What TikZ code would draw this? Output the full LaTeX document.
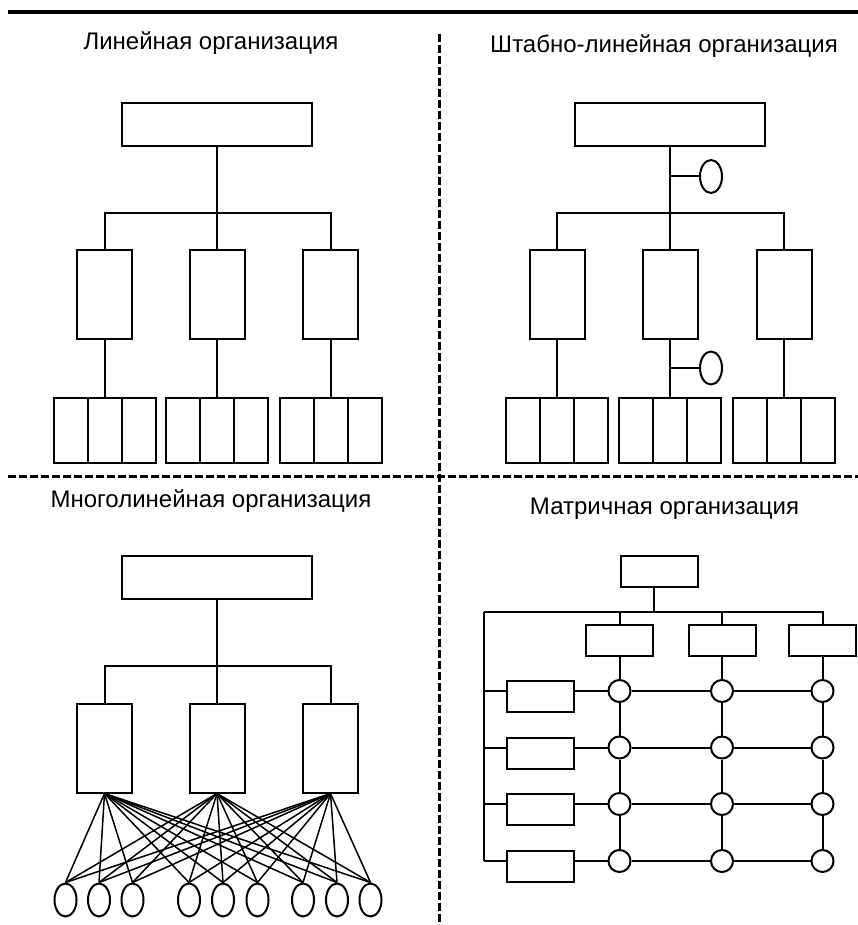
\documentclass[tikz,border=0pt]{standalone}
\usepackage{fontspec}
\setmainfont{Liberation Sans}
\usetikzlibrary{shapes.geometric}
\begin{document}
\begin{tikzpicture}[x=1pt,y=-1pt,
  ln/.style={line width=2pt},
  fan/.style={line width=1.5pt},
  bx/.style={draw,line width=2pt,rectangle,inner sep=0pt,fill=white},
  ov/.style={draw,line width=2pt,ellipse,inner sep=0pt,minimum width=22pt,minimum height=33pt,fill=white},
  cr/.style={draw,line width=2pt,circle,inner sep=0pt,minimum size=22pt,fill=white},
  ttl/.style={font=\fontsize{24}{28}\selectfont,inner sep=0pt,anchor=base},
  sep/.style={line width=3pt,dash pattern=on 8pt off 3pt},
  topbox/.style={bx,minimum width=190pt,minimum height=43pt},
  midbox/.style={bx,minimum width=55pt,minimum height=89pt},
  cell/.style={bx,minimum width=34pt,minimum height=65pt},
  smallbox/.style={bx,minimum width=67pt,minimum height=31pt}
]
\useasboundingbox (0,0) rectangle (858,925);

% separators
\coordinate (tl) at (8,12);
\coordinate (tr) at (858,12);
\draw[line width=3.2pt] (tl) -- (tr);
\coordinate (vt) at (439,34);
\coordinate (vb) at (439,925);
\draw[sep] (vt) -- (vb);
\coordinate (hl) at (8,476);
\coordinate (hr) at (858,476);
\draw[sep] (hl) -- (hr);

% titles
\node[ttl] (t1) at (211,50) {Линейная организация};
\node[ttl] (t2) at (664,52.5) {Штабно-линейная организация};
\node[ttl] (t3) at (211,507) {Многолинейная организация};
\node[ttl] (t4) at (664.5,514) {Матричная организация};

% ---------- Linear organisation ----------
\node[topbox] (a0) at (217,124.5) {};
\coordinate (ab) at (217,213);
\foreach \g/\x in {1/104.5,2/217,3/330.5}{
  \node[midbox] (am\g) at (\x,294.5) {};
  \node[cell] (ag\g l) at ({\x-34},430.5) {};
  \node[cell] (ag\g c) at (\x,430.5) {};
  \node[cell] (ag\g r) at ({\x+34},430.5) {};
  \draw[ln] (am\g.south) -- (ag\g c.north);
}
\draw[ln] (a0.south) -- (ab);
\draw[ln] (am1.north) |- (ab) -| (am3.north);
\draw[ln] (ab) -- (am2.north);

% ---------- Staff-line organisation ----------
\node[topbox] (b0) at (670,124.5) {};
\coordinate (bb) at (670,213);
\foreach \g/\x in {1/557,2/670,3/784}{
  \node[midbox] (bm\g) at (\x,294.5) {};
  \node[cell] (bg\g l) at ({\x-34},430.5) {};
  \node[cell] (bg\g c) at (\x,430.5) {};
  \node[cell] (bg\g r) at ({\x+34},430.5) {};
  \draw[ln] (bm\g.south) -- (bg\g c.north);
}
\draw[ln] (b0.south) -- (bb);
\draw[ln] (bm1.north) |- (bb) -| (bm3.north);
\draw[ln] (bb) -- (bm2.north);
\node[ov] (bs1) at (711,176.5) {};
\coordinate (bs1c) at (670,176.5);
\draw[ln] (bs1c) -- (bs1.west);
\node[ov] (bs2) at (711,368) {};
\coordinate (bs2c) at (670,368);
\draw[ln] (bs2c) -- (bs2.west);

% ---------- Multi-line organisation ----------
\node[topbox] (c0) at (217,577.5) {};
\coordinate (cb) at (217,666);
\foreach \g/\x in {1/104.5,2/217,3/330.5}{
  \node[midbox] (cm\g) at (\x,748) {};
}
\draw[ln] (c0.south) -- (cb);
\draw[ln] (cm1.north) |- (cb) -| (cm3.north);
\draw[ln] (cb) -- (cm2.north);
\foreach \j/\x in {1/65.5,2/99,3/132.5,4/189,5/223,6/257.5,7/303,8/337,9/370.5}{
  \node[ov] (ce\j) at (\x,900) {};
}
\foreach \i in {1,2,3}{
  \foreach \j in {1,...,9}{
    \draw[fan] (cm\i.south) -- (ce\j.north);
  }
}

% ---------- Matrix organisation ----------
\node[bx,minimum width=77pt,minimum height=31pt] (d0) at (659.5,571.5) {};
\coordinate (db) at (654,612);
\coordinate (dl) at (484,612);
\draw[ln] ([xshift=-5.5pt]d0.south) -- (db);
\foreach \j/\x in {1/619.5,2/722,3/822.5}{
  \node[smallbox] (dm\j) at (\x,640) {};
}
\draw[ln] (dl) -| (dm3.north);
\draw[ln] (dm1.north) -- (dm1.north |- dl);
\draw[ln] (dm2.north) -- (dm2.north |- dl);
\foreach \i/\y in {1/691,2/747.5,3/804,4/861}{
  \coordinate (dl\i) at (484,\y);
  \node[smallbox] (dr\i) at (540.5,{\y+5.5}) {};
  \foreach \j/\x in {1/619.5,2/722,3/822.5}{
    \node[cr] (dc\i\j) at (\x,\y) {};
  }
  \draw[ln] (dl\i) -- (dr\i.west |- dl\i);
  \draw[ln] (dr\i.east |- dl\i) -- (dc\i1);
  \draw[ln] (dc\i1) -- (dc\i2);
  \draw[ln] (dc\i2) -- (dc\i3);
}
\draw[ln] (dl) -- (dl4);
\foreach \j in {1,2,3}{
  \draw[ln] (dm\j.south) -- (dc1\j);
  \draw[ln] (dc1\j) -- (dc2\j);
  \draw[ln] (dc2\j) -- (dc3\j);
  \draw[ln] (dc3\j) -- (dc4\j);
}
\end{tikzpicture}
\end{document}
